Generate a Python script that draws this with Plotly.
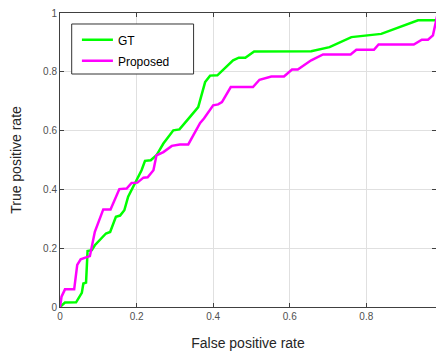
import plotly.graph_objects as go

gt_fpr = [0.0, 0.013, 0.042, 0.049, 0.057, 0.061, 0.068, 0.072, 0.083, 0.091, 0.104, 0.12, 0.131,
          0.146, 0.157, 0.168, 0.178, 0.191, 0.2, 0.213, 0.222, 0.237, 0.252, 0.27, 0.296, 0.312,
          0.339, 0.361, 0.379, 0.392, 0.411, 0.435, 0.452, 0.467, 0.484, 0.507, 0.569, 0.656,
          0.704, 0.761, 0.839, 0.935, 0.99]
gt_tpr = [0.0, 0.015, 0.016, 0.032, 0.048, 0.08, 0.083, 0.19, 0.193, 0.21, 0.228, 0.25, 0.255,
          0.307, 0.311, 0.329, 0.375, 0.409, 0.43, 0.465, 0.497, 0.499, 0.516, 0.556, 0.601, 0.604,
          0.646, 0.68, 0.765, 0.787, 0.788, 0.816, 0.839, 0.848, 0.848, 0.869, 0.87, 0.87,
          0.884, 0.918, 0.929, 0.975, 0.975]

pr_fpr = [0.0, 0.004, 0.013, 0.037, 0.045, 0.054, 0.068, 0.078, 0.091, 0.113, 0.132, 0.155, 0.174,
          0.187, 0.202, 0.218, 0.229, 0.244, 0.252, 0.27, 0.292, 0.313, 0.335, 0.346, 0.366, 0.376,
          0.4, 0.413, 0.423, 0.446, 0.504, 0.521, 0.552, 0.585, 0.606, 0.621, 0.656, 0.687, 0.759,
          0.774, 0.82, 0.832, 0.924, 0.945, 0.961, 0.974, 0.98, 0.985]
pr_tpr = [0.0, 0.035, 0.06, 0.06, 0.143, 0.162, 0.169, 0.173, 0.256, 0.332, 0.332, 0.401, 0.403,
          0.422, 0.423, 0.44, 0.441, 0.465, 0.516, 0.527, 0.548, 0.553, 0.553, 0.578, 0.626, 0.641,
          0.686, 0.689, 0.697, 0.748, 0.748, 0.773, 0.784, 0.784, 0.808, 0.808, 0.839, 0.859, 0.859,
          0.875, 0.875, 0.893, 0.893, 0.909, 0.909, 0.924, 0.963, 0.99]

x_ticks = [0, 0.2, 0.4, 0.6, 0.8, 1]
x_tick_labels = ["0", "0.2", "0.4", "0.6", "0.8", "1"]
y_ticks = [0, 0.2, 0.4, 0.6, 0.8, 1]
y_tick_labels = ["0", "0.2", "0.4", "0.6", "0.8", "1"]

fig = go.Figure()
fig.add_trace(go.Scatter(x=gt_fpr, y=gt_tpr, mode="lines", name="GT", legendgroup="a",
                         line=dict(color="#00FF00", width=2.5)))
fig.add_trace(go.Scatter(x=pr_fpr, y=pr_tpr, mode="lines", name="Proposed", legendgroup="b",
                         line=dict(color="#FF00FF", width=2.5)))

axis_common = dict(showline=True, linecolor="#404040", linewidth=1, mirror="ticks",
                   ticks="inside", ticklen=4, tickcolor="#404040", automargin=False,
                   showgrid=True, gridcolor="#E0E0E0", gridwidth=1, zeroline=False,
                   tickfont=dict(family="Liberation Sans, Arial", size=10, color="#505050"),
                   title_font=dict(family="Liberation Sans, Arial", size=14, color="#262626"))

# legend frame (drawn as a box behind the transparent legend)
fig.add_shape(type="rect", xref="paper", yref="paper",
              x0=0.0311, x1=0.3553, y0=0.7925, y1=0.9626,
              fillcolor="white", line=dict(color="#333333", width=1), layer="above")

fig.update_layout(
    width=436, height=356,
    margin=dict(l=60, r=0, t=13, b=49),
    paper_bgcolor="white", plot_bgcolor="white",
    font=dict(family="Liberation Sans, Arial", color="#262626"),
    xaxis=dict(range=[0, 0.982], tickvals=x_ticks, ticktext=x_tick_labels,
               title=dict(text="False positive rate", standoff=17), **axis_common),
    yaxis=dict(range=[0, 1], tickvals=y_ticks, ticktext=y_tick_labels,
               title=dict(text="True positive rate", standoff=18), **axis_common),
    legend=dict(x=0.045, y=0.958, xanchor="left", yanchor="top",
                bgcolor="rgba(0,0,0,0)", borderwidth=0, itemwidth=31,
                font=dict(family="Liberation Sans, Arial", size=12, color="#000000"),
                tracegroupgap=2),
    showlegend=True,
)

fig.write_html("out.html", config={"displayModeBar": False},
               post_script="document.body.style.margin='0';document.body.style.overflow='hidden';")
